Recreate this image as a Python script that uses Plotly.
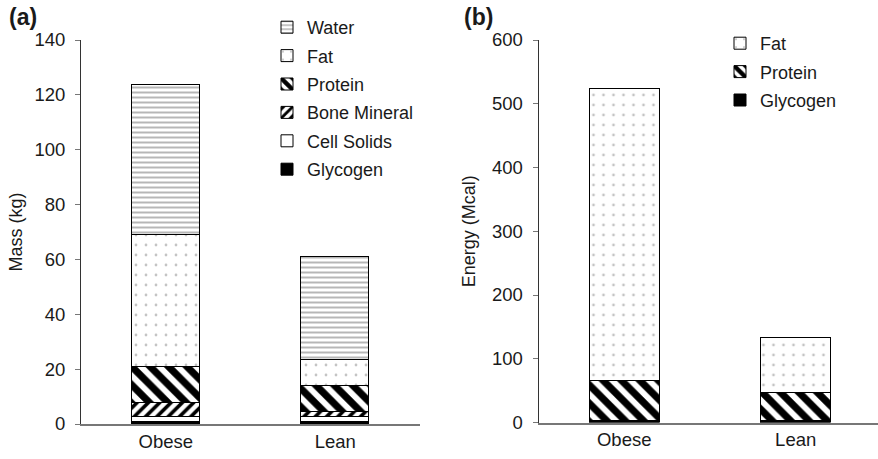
import plotly.graph_objects as go

# ---- data ----
categories = ["Obese", "Lean"]

mass_glycogen = [0.8, 0.8]
mass_cell_solids = [1.6, 1.8]
mass_bone_mineral = [5.1, 1.9]
mass_protein = [13.2, 9.5]
mass_fat = [48.2, 9.3]
mass_water = [54.6, 37.5]

energy_glycogen = [2, 2]
energy_protein = [63, 45]
energy_fat = [458, 85]

mass_ticks = [0, 20, 40, 60, 80, 100, 120, 140]
energy_ticks = [0, 100, 200, 300, 400, 500, 600]

FONT = "Liberation Sans, Arial, Helvetica, sans-serif"
TXT = "#1a1a1a"
W, H = 878, 459

styles = {
    "Water": dict(color="white", pattern=dict(shape="-", fgcolor="#6e6e6e", bgcolor="white", size=5, solidity=0.4)),
    "Fat": dict(color="white", pattern=dict(shape=".", fgcolor="#8a8a8a", bgcolor="white", size=10, solidity=0.06)),
    "Protein": dict(color="white", pattern=dict(shape="\\", fgcolor="black", fgopacity=1, bgcolor="white", size=13, solidity=0.55)),
    "Bone Mineral": dict(color="white", pattern=dict(shape="/", fgcolor="black", fgopacity=1, bgcolor="white", size=8, solidity=0.45)),
    "Cell Solids": dict(color="white"),
    "Glycogen": dict(color="black"),
}
legend_rank = {"Water": 1, "Fat": 2, "Protein": 3, "Bone Mineral": 4, "Cell Solids": 5, "Glycogen": 6}

fig = go.Figure()

mass_series = [
    ("Glycogen", mass_glycogen),
    ("Cell Solids", mass_cell_solids),
    ("Bone Mineral", mass_bone_mineral),
    ("Protein", mass_protein),
    ("Fat", mass_fat),
    ("Water", mass_water),
]
for name, vals in mass_series:
    fig.add_trace(go.Bar(
        x=categories, y=vals, name=name, width=0.4,
        marker=dict(line=dict(color="black", width=1), **styles[name]),
        xaxis="x", yaxis="y", legend="legend", legendrank=legend_rank[name],
        legendgroup="a" + name,
    ))

energy_series = [
    ("Glycogen", energy_glycogen),
    ("Protein", energy_protein),
    ("Fat", energy_fat),
]
for name, vals in energy_series:
    fig.add_trace(go.Bar(
        x=categories, y=vals, name=name, width=0.41,
        marker=dict(line=dict(color="black", width=1), **styles[name]),
        xaxis="x2", yaxis="y2", legend="legend2", legendrank=legend_rank[name],
        legendgroup="b" + name,
    ))

def py(pix):
    return 1 - pix / H

common_x = dict(showgrid=False, zeroline=False, showline=True, linecolor="#777", linewidth=1.5,
                ticks="", tickfont=dict(size=18.5, color=TXT, family=FONT), automargin=False)
common_y = dict(showgrid=False, zeroline=False, showline=True, linecolor="#333", linewidth=1,
                ticks="outside", ticklen=5, tickcolor="#777", tickwidth=1, ticklabelstandoff=6,
                tickfont=dict(size=18.5, color=TXT, family=FONT), automargin=False)

legend_common = dict(font=dict(size=18, color=TXT, family=FONT), bgcolor="rgba(0,0,0,0)",
                     traceorder="grouped", tracegroupgap=2, itemwidth=30,
                     xanchor="left", yanchor="top")

fig.update_layout(
    width=W, height=H,
    margin=dict(l=0, r=0, t=0, b=0),
    paper_bgcolor="white", plot_bgcolor="white",
    barmode="stack", bargap=0,
    font=dict(family=FONT, color=TXT),
    xaxis=dict(domain=[81 / W, 420 / W], range=[-0.5, 1.5], anchor="y", **common_x),
    yaxis=dict(domain=[py(424), py(40)], range=[0, 140], tickvals=mass_ticks, anchor="x",
               title=dict(text="Mass (kg)", font=dict(size=18, color=TXT, family=FONT), standoff=7),
               **common_y),
    xaxis2=dict(domain=[538.5 / W, 1.0], range=[-0.5, 1.48], anchor="y2", **common_x),
    yaxis2=dict(domain=[py(422.5), py(40)], range=[0, 600], tickvals=energy_ticks, anchor="x2",
                title=dict(text="Energy (Mcal)", font=dict(size=18, color=TXT, family=FONT), standoff=11),
                **common_y),
    legend=dict(x=267 / W, y=py(9), **legend_common),
    legend2=dict(x=720 / W, y=py(25), **legend_common),
    showlegend=True,
    annotations=[
        dict(text="<b>(a)</b>", x=7 / W, y=py(17), xref="paper", yref="paper", xanchor="left",
             yanchor="middle", showarrow=False, font=dict(size=23, color=TXT, family=FONT)),
        dict(text="<b>(b)</b>", x=462 / W, y=py(17), xref="paper", yref="paper", xanchor="left",
             yanchor="middle", showarrow=False, font=dict(size=23, color=TXT, family=FONT)),
    ],
)

fig.write_html("out.html", config={"displayModeBar": False},
               post_script="document.body.style.margin='0';document.body.style.overflow='hidden';")
